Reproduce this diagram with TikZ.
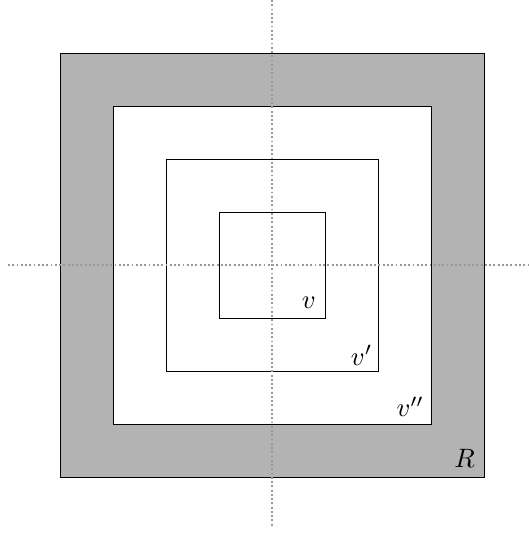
\documentclass[tikz,border=0pt]{standalone}
\usepackage{amsmath}
\usepackage{tikz}
\usetikzlibrary{positioning}

\begin{document}
\begin{tikzpicture}[x=0.7cm, y=0.7cm, line width=0.3pt]

\definecolor{shadec}{HTML}{B3B3B3}
\definecolor{axisc}{HTML}{999999}

\useasboundingbox (-5.132,-5.075) rectangle (4.830,5.0);

% shaded outer ring R and the nested squares
\filldraw[fill=shadec, draw=black] (-4,-4) rectangle (4,4);
\filldraw[fill=white, draw=black] (-3,-3) rectangle (3,3);
\draw (-2,-2) rectangle (2,2);
\draw (-1,-1) rectangle (1,1);

\coordinate (west) at (-4.98,0);
\coordinate (east) at (4.83,0);
\coordinate (north) at (0,5.0);
\coordinate (south) at (0,-4.94);
\draw[axisc, line width=0.6pt, dash pattern=on 0.7pt off 0.9pt] (west) -- (east);
\draw[axisc, line width=0.6pt, dash pattern=on 0.7pt off 0.9pt] (north) -- (south);

\node[anchor=south east] (lv)   at (1,-1) {$v$};
\node[anchor=south east, inner sep=2pt] (lvp)  at (2,-2) {$v'$};
\node[anchor=south east, inner sep=2.5pt] (lvpp) at (3,-3) {$v''$};
\node[anchor=south east] (lR)   at (4,-4) {$R$};

\end{tikzpicture}
\end{document}
